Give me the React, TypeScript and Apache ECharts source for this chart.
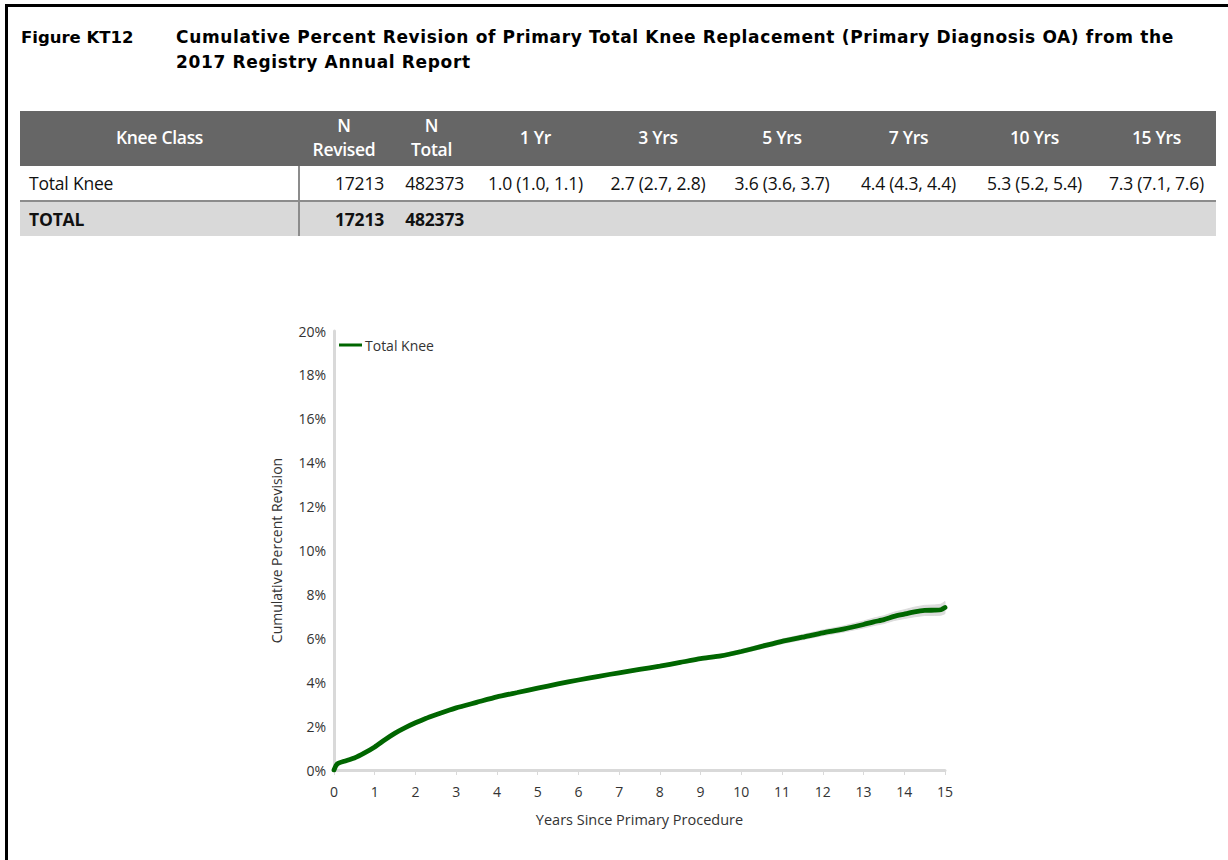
import React, { useEffect, useRef } from "react";
import * as echarts from "echarts";

// Years since primary procedure, and cumulative percent revision
const years = [
  0, 0.05, 0.1, 0.25, 0.5, 0.75, 1, 1.25, 1.5, 1.75, 2, 2.25, 2.5, 2.75, 3, 3.5, 4, 4.5, 5, 5.5, 6, 6.5, 7, 7.5, 8,
  8.5, 9, 9.5, 10, 10.5, 11, 11.5, 12, 12.5, 13, 13.25, 13.5, 13.75, 14, 14.25, 14.5, 14.75, 14.9, 15,
];
const totalKnee = [
  0, 0.2, 0.3, 0.4, 0.55, 0.78, 1.05, 1.38, 1.68, 1.93, 2.15, 2.35, 2.52, 2.68, 2.83, 3.08, 3.33, 3.53, 3.73, 3.92,
  4.1, 4.27, 4.43, 4.58, 4.73, 4.9, 5.07, 5.2, 5.4, 5.63, 5.86, 6.05, 6.25, 6.42, 6.63, 6.75, 6.85, 7.0, 7.1, 7.2,
  7.27, 7.28, 7.3, 7.4,
];
// 95% confidence band
const bandLower = [
  0, 0.18, 0.28, 0.38, 0.53, 0.76, 1.02, 1.35, 1.65, 1.9, 2.12, 2.32, 2.49, 2.65, 2.8, 3.05, 3.29, 3.49, 3.69, 3.88,
  4.05, 4.22, 4.37, 4.52, 4.66, 4.83, 4.99, 5.12, 5.31, 5.53, 5.75, 5.93, 6.12, 6.28, 6.47, 6.58, 6.67, 6.81, 6.9,
  6.98, 7.04, 7.04, 7.05, 7.12,
];
const bandUpper = [
  0, 0.22, 0.32, 0.42, 0.57, 0.8, 1.08, 1.41, 1.71, 1.96, 2.18, 2.38, 2.55, 2.71, 2.86, 3.11, 3.37, 3.57, 3.77,
  3.96, 4.15, 4.32, 4.49, 4.64, 4.8, 4.97, 5.15, 5.28, 5.49, 5.73, 5.97, 6.17, 6.38, 6.56, 6.79, 6.92, 7.03, 7.19,
  7.3, 7.42, 7.5, 7.52, 7.55, 7.68,
];

// Table
const tableHeaders = ["Knee Class", "N\nRevised", "N\nTotal", "1 Yr", "3 Yrs", "5 Yrs", "7 Yrs", "10 Yrs", "15 Yrs"];
const totalKneeRow = [
  "Total Knee", "17213", "482373", "1.0 (1.0, 1.1)", "2.7 (2.7, 2.8)", "3.6 (3.6, 3.7)", "4.4 (4.3, 4.4)",
  "5.3 (5.2, 5.4)", "7.3 (7.1, 7.6)",
];
const totalRow = ["TOTAL", "17213", "482373", "", "", "", "", "", ""];
const colWidths = [279, 90, 85, 123, 122, 126, 127, 125, 119];

const FONT = "'Open Sans', 'Noto Sans', sans-serif";

const Chart: React.FC = () => {
  const chartRef = useRef<HTMLDivElement>(null);

  useEffect(() => {
    const dom = chartRef.current;
    if (!dom) return;
    const chart = echarts.init(dom, undefined, { renderer: "svg" });

    const lineData = years.map((x, i) => [x, totalKnee[i]]);
    const bandData = years.map((x, i) => [x, bandLower[i], bandUpper[i]]);

    chart.setOption({
      animation: false,
      textStyle: { fontFamily: FONT, color: "#333" },
      grid: { left: 334, right: 283, top: 91, bottom: 90 },
      legend: {
        data: ["Total Knee"],
        left: 334,
        top: 93,
        icon: "rect",
        itemWidth: 23,
        itemHeight: 3,
        itemGap: 4,
        textStyle: { fontSize: 14, color: "#333", fontFamily: FONT, padding: [0, 0, 0, -2] },
      },
      xAxis: {
        type: "value",
        min: 0,
        max: 15,
        interval: 1,
        name: "Years Since Primary Procedure",
        nameLocation: "middle",
        nameGap: 42,
        nameTextStyle: { fontSize: 14.5, color: "#333" },
        axisLine: { lineStyle: { color: "#d9d9d9", width: 3 } },
        axisTick: { show: true, length: 5, lineStyle: { color: "#d9d9d9", width: 1 } },
        axisLabel: { fontSize: 14, color: "#333", margin: 14 },
        splitLine: { show: false },
      },
      yAxis: {
        type: "value",
        min: 0,
        max: 20,
        interval: 2,
        name: "Cumulative Percent Revision",
        nameLocation: "middle",
        nameGap: 51,
        nameTextStyle: { fontSize: 14, color: "#333" },
        axisLine: { show: true, lineStyle: { color: "#d9d9d9", width: 3 } },
        axisTick: { show: false },
        axisLabel: { fontSize: 14, color: "#333", margin: 8, formatter: "{value}%" },
        splitLine: { show: false },
      },
      series: [
        {
          name: "band",
          type: "custom",
          silent: true,
          data: bandData,
          encode: { x: 0, y: [1, 2] },
          renderItem: (params: any, api: any) => {
            if (params.dataIndex !== 0) return null;
            const upper = bandData.map((d) => api.coord([d[0], d[2]]));
            const lower = bandData.map((d) => api.coord([d[0], d[1]])).reverse();
            return {
              type: "polygon",
              shape: { points: upper.concat(lower) },
              style: { fill: "#dcdcdc", stroke: "#dcdcdc", lineWidth: 1 },
            };
          },
          z: 1,
        },
        {
          name: "Total Knee",
          type: "line",
          data: lineData,
          symbol: "none",
          smooth: 0.2,
          color: "#006600",
          lineStyle: { color: "#006600", width: 4.8, cap: "round" },
          z: 3,
        },
      ],
    });

    return () => {
      chart.dispose();
    };
  }, []);

  return (
    <div
      ref={chartRef}
      style={{ position: "absolute", left: 0, top: 240, width: 1228, height: 620 }}
    ></div>
  );
};

const cellText = (t: string) =>
  t.split("\n").map((s, i) => (
    <div key={i} style={{ lineHeight: "24px" }}>
      {s}
    </div>
  ));

export default function App() {
  const thStyle: React.CSSProperties = {
    background: "#666666",
    color: "#fff",
    fontWeight: 600,
    fontSize: 17.5,
    letterSpacing: "-0.3px",
    textAlign: "center",
    padding: "0 0 3px 0",
    height: 52,
    verticalAlign: "middle",
  };

  const rowCell = (i: number, bold: boolean): React.CSSProperties => ({
    fontSize: 17.5,
    letterSpacing: "-0.2px",
    fontWeight: bold ? 700 : 400,
    height: 34,
    padding: i === 0 ? "0 0 0 9px" : i === 1 ? "0 5px 0 0" : i === 2 ? "0 10px 0 0" : 0,
    textAlign: i === 0 ? "left" : i < 3 ? "right" : "center",
    borderLeft: i === 1 ? "2px solid #8c8c8c" : undefined,
    whiteSpace: "nowrap",
    overflow: "visible",
    color: "#111",
  });

  const titleStyle: React.CSSProperties = {
    position: "absolute",
    top: 25,
    fontFamily: "'DejaVu Sans', sans-serif",
    fontWeight: 700,
    fontSize: 17,
    lineHeight: "25px",
    color: "#000",
    whiteSpace: "nowrap",
  };

  return (
    <div
      style={{
        position: "fixed",
        left: 0,
        top: 0,
        width: 1228,
        height: 860,
        background: "#fff",
        fontFamily: FONT,
        overflow: "hidden",
      }}
    >
      <div style={{ position: "absolute", left: 5, top: 4, width: 1223, height: 3, background: "#000" }} />
      <div style={{ position: "absolute", left: 5, top: 4, width: 3, height: 856, background: "#000" }} />

      <div style={{ ...titleStyle, left: 21, fontSize: 16.5 }}>Figure KT12</div>
      <div style={{ ...titleStyle, left: 176, letterSpacing: "0.65px" }}>
        Cumulative Percent Revision of Primary Total Knee Replacement (Primary Diagnosis OA) from the
        <br />
        2017 Registry Annual Report
      </div>

      <table
        style={{
          position: "absolute",
          left: 20,
          top: 111,
          width: 1196,
          borderCollapse: "collapse",
          tableLayout: "fixed",
        }}
      >
        <colgroup>
          {colWidths.map((w, i) => (
            <col key={i} style={{ width: w }} />
          ))}
        </colgroup>
        <thead>
          <tr>
            {tableHeaders.map((h, i) => (
              <th key={i} style={thStyle}>
                {cellText(h)}
              </th>
            ))}
          </tr>
        </thead>
        <tbody>
          <tr style={{ background: "#fff", borderBottom: "2px solid #8c8c8c" }}>
            {totalKneeRow.map((c, i) => (
              <td key={i} style={rowCell(i, false)}>
                {c}
              </td>
            ))}
          </tr>
          <tr style={{ background: "#d9d9d9" }}>
            {totalRow.map((c, i) => (
              <td key={i} style={rowCell(i, true)}>
                {c}
              </td>
            ))}
          </tr>
        </tbody>
      </table>

      <Chart />
    </div>
  );
}
